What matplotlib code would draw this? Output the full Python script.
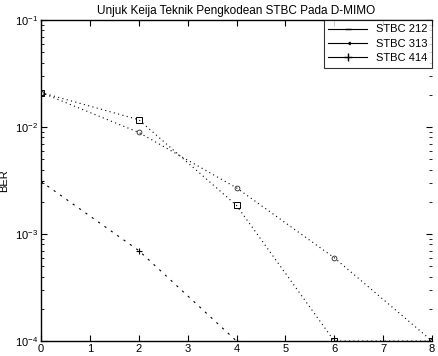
import matplotlib
matplotlib.use("Agg")
import matplotlib.pyplot as plt
from matplotlib.lines import Line2D

x_212 = [0, 2, 4, 6, 8]
ber_212 = [2.1e-2, 1.17e-2, 1.85e-3, 1.0e-4, 1.0e-4]
x_313 = [0, 2, 4, 6, 8]
ber_313 = [2.1e-2, 8.9e-3, 2.7e-3, 6.0e-4, 1.0e-4]
x_414 = [0, 2, 4]
ber_414 = [3.1e-3, 7.0e-4, 1.0e-4]
labels = ["STBC 212", "STBC 313", "STBC 414"]

plt.rcParams['font.family'] = ['Liberation Sans', 'DejaVu Sans']
fig = plt.figure(figsize=(4.38, 3.56), dpi=100)
ax = fig.add_axes([41/438, 1-341/356, (432-41)/438, (341-20)/356])

ax.semilogy(x_212, ber_212, color='black', linestyle=(0, (1, 3)), linewidth=0.8,
            marker='s', markersize=4, fillstyle='none', markeredgewidth=0.7)
ax.semilogy(x_313, ber_313, color='black', linestyle=(0, (1, 3)), linewidth=0.8,
            marker='o', markersize=3.5, fillstyle='none', markeredgewidth=0.5)
ax.semilogy(x_414, ber_414, color='black', linestyle=(0, (2, 5)), linewidth=0.8,
            marker='+', markersize=5, markeredgewidth=0.8)

ax.set_xlim(0, 8)
ax.set_ylim(1e-4, 1e-1)
ax.set_xticks(range(0, 9))
ax.tick_params(axis='both', which='both', direction='in', labelsize=8,
               top=True, right=True, pad=2)
ax.tick_params(axis='both', which='major', length=4)
ax.tick_params(axis='both', which='minor', length=2)
ax.spines['right'].set_visible(False)
for s in ['left', 'bottom', 'top']:
    ax.spines[s].set_linewidth(1.0)

ax.set_ylabel("BER", fontsize=8)
ax.yaxis.set_label_coords(-0.082, 0.5)
ax.set_title("Unjuk Keija Teknik Pengkodean STBC Pada D-MIMO", fontsize=8.5, pad=4)

handles = [Line2D([0], [0], color='black', linewidth=0.8, marker='_', markersize=5),
           Line2D([0], [0], color='black', linewidth=0.8, marker=4, markersize=2),
           Line2D([0], [0], color='black', linewidth=0.8, marker='+', markersize=6)]
leg = ax.legend(handles, labels, loc='upper right', fontsize=8, frameon=True,
                fancybox=False, edgecolor='black', borderaxespad=0.0,
                handlelength=3.5, labelspacing=0.4)
leg.get_frame().set_linewidth(0.8)

fig.savefig("out.png", dpi=100)
